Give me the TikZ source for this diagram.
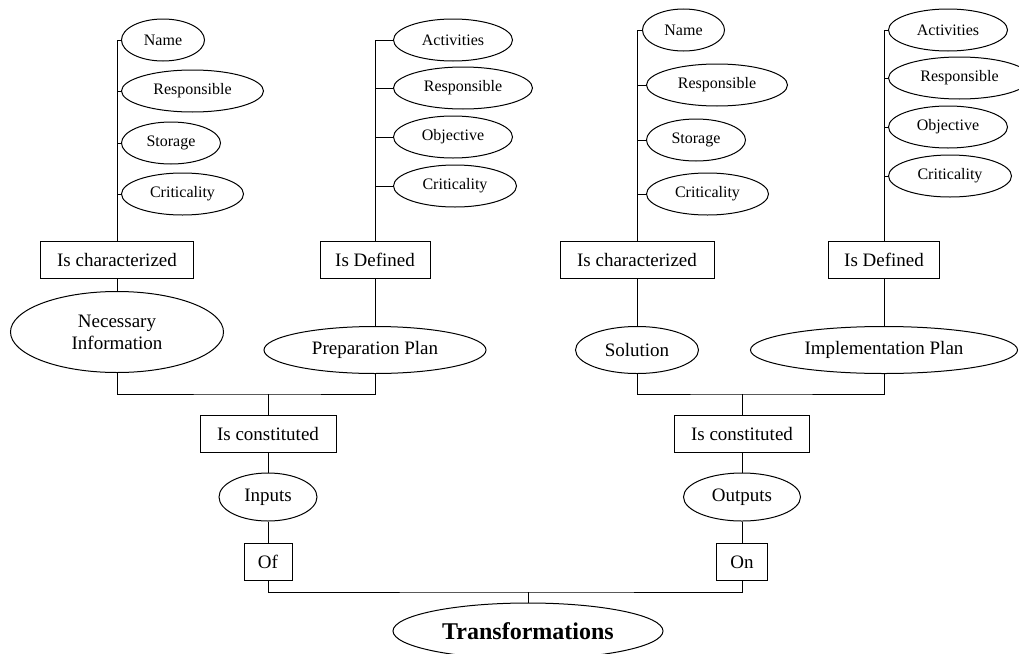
\documentclass[tikz,border=0pt]{standalone}
\usepackage{fontspec}
\setmainfont{Liberation Serif}
\usepackage{tikz}
\usetikzlibrary{shapes,arrows,positioning,calc}
\newcommand{\bigtxt}{\fontsize{19}{22}\selectfont}
\newcommand{\smalltxt}{\fontsize{16}{19}\selectfont}
\tikzset{
attr/.style = {draw, ellipse, inner sep=0pt, minimum height=42pt, anchor=west, font=\smalltxt},
concept/.style = {draw, ellipse, inner sep=0pt, minimum height=47pt, align=center, font=\bigtxt},
relation/.style = {draw, fill=white, rectangle, inner sep=0pt, minimum height=37pt, font=\bigtxt},
}

\begin{document}
\begin{tikzpicture}[x=1pt, y=-1pt, line width=1pt]
      \useasboundingbox (0,0) rectangle (1019,653);
      % left branch
      \node [relation,name=ischar1, minimum width=153pt] at (117,260) (ischar1) {Is characterized};
      \node [relation,name=isdef1, minimum width=110pt] at (375,260) (isdef1) {Is Defined};
      \node [attr,name=name1, minimum width=83pt] at (121,40) (name1) {Name};
      \node [attr,name=resp1, minimum width=142pt] at (121,91) (resp1) {Responsible};
      \node [attr,name=stor1, minimum width=99pt] at (121,143) (stor1) {Storage};
      \node [attr,name=crit1, minimum width=122pt] at (121,194) (crit1) {Criticality};
      \node [attr,name=act1, minimum width=119pt] at (393,40) (act1) {Activities};
      \node [attr,name=resp2, minimum width=139pt] at (393,88) (resp2) {Responsible};
      \node [attr,name=obj1, minimum width=119pt] at (393,137) (obj1) {Objective};
      \node [attr,name=crit2, minimum width=123pt] at (393,186) (crit2) {Criticality};
      \node [concept,name=necinfo, minimum width=213pt, minimum height=81pt] at (117,332) (necinfo) {Necessary\\Information};
      \node [concept,name=prepplan, minimum width=222pt] at (375,350) (prepplan) {Preparation Plan};
      \node [relation,name=iscons1, minimum width=136pt] at (268,434) (iscons1) {Is constituted};
      \node [concept,name=inputs, below of = iscons1, node distance = 63pt, minimum width=98pt, minimum height=48pt] (inputs) {Inputs};
      \node [relation,name=of, below of = inputs, node distance = 65pt, minimum width=48pt] (of) {Of};
      % right branch
      \node [relation,name=ischar2, minimum width=154pt] at (637,260) (ischar2) {Is characterized};
      \node [relation,name=isdef2, minimum width=111pt] at (884,260) (isdef2) {Is Defined};
      \node [attr,name=name2, minimum width=82pt] at (642,30) (name2) {Name};
      \node [attr,name=resp3, minimum width=141pt] at (646,85) (resp3) {Responsible};
      \node [attr,name=stor2, minimum width=99pt] at (646,140) (stor2) {Storage};
      \node [attr,name=crit3, minimum width=122pt] at (646,194) (crit3) {Criticality};
      \node [attr,name=act2, minimum width=119pt] at (888,30) (act2) {Activities};
      \node [attr,name=resp4, minimum width=142pt] at (888,78) (resp4) {Responsible};
      \node [attr,name=obj2, minimum width=119pt] at (888,127) (obj2) {Objective};
      \node [attr,name=crit4, minimum width=123pt] at (888,176) (crit4) {Criticality};
      \node [concept,name=solution, minimum width=123pt] at (637,350) (solution) {Solution};
      \node [concept,name=implplan, minimum width=267pt] at (884,350) (implplan) {Implementation Plan};
      \node [relation,name=iscons2, minimum width=135pt] at (742,434) (iscons2) {Is constituted};
      \node [concept,name=outputs, below of = iscons2, node distance = 63pt, minimum width=117pt, minimum height=48pt] (outputs) {Outputs};
      \node [relation,name=on, below of = outputs, node distance = 65pt, minimum width=51pt] (on) {On};
      % root
      \node [concept,name=transf, minimum width=270pt, minimum height=56pt, font=\fontsize{24}{28}\selectfont\bfseries] at (528,631) (transf) {Transformations};
      \coordinate (fork1) at (iscons1.north |- 0,394);
      \coordinate (fork2) at (iscons2.north |- 0,394);
      \coordinate (fork3) at (transf.north |- 0,592);
      % attributes
      \draw (ischar1.north) |- (name1.west);
      \draw (ischar1.north |- resp1.west) -- (resp1.west);
      \draw (ischar1.north |- stor1.west) -- (stor1.west);
      \draw (ischar1.north |- crit1.west) -- (crit1.west);
      \draw (isdef1.north) |- (act1.west);
      \draw (isdef1.north |- resp2.west) -- (resp2.west);
      \draw (isdef1.north |- obj1.west) -- (obj1.west);
      \draw (isdef1.north |- crit2.west) -- (crit2.west);
      \draw (ischar2.north) |- (name2.west);
      \draw (ischar2.north |- resp3.west) -- (resp3.west);
      \draw (ischar2.north |- stor2.west) -- (stor2.west);
      \draw (ischar2.north |- crit3.west) -- (crit3.west);
      \draw (isdef2.north) |- (act2.west);
      \draw (isdef2.north |- resp4.west) -- (resp4.west);
      \draw (isdef2.north |- obj2.west) -- (obj2.west);
      \draw (isdef2.north |- crit4.west) -- (crit4.west);
      % tree
      \draw (ischar1) -- (necinfo);
      \draw (isdef1) -- (prepplan);
      \draw (ischar2) -- (solution);
      \draw (isdef2) -- (implplan);
      \draw (necinfo.south) |- (fork1) -| (prepplan.south);
      \draw (solution.south) |- (fork2) -| (implplan.south);
      \draw (fork1) -- (iscons1);
      \draw (fork2) -- (iscons2);
      \draw (iscons1) -- (inputs);
      \draw (iscons2) -- (outputs);
      \draw (inputs) -- (of);
      \draw (outputs) -- (on);
      \draw (of.south) |- (fork3) -| (on.south);
      \draw (fork3) -- (transf);
      \end{tikzpicture}
\end{document}
